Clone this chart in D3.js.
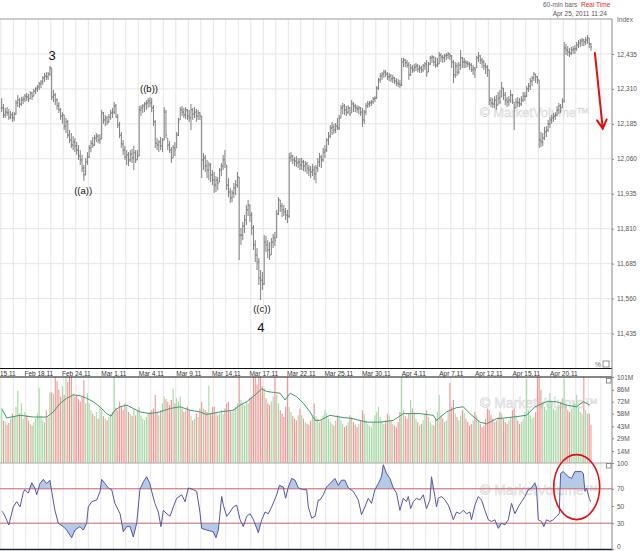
<!DOCTYPE html>
<html>
<head>
<meta charset="utf-8">
<script src="https://cdn.jsdelivr.net/npm/d3@7"></script>
<style>
  body { margin: 0; background: #fff; }
  svg { display: block; font-family: "Liberation Sans", Arial, sans-serif; }
</style>
</head>
<body>
<div id="chart"></div>
<script>
// 60-min bars, 7 per trading day (Apr 25 only 2 bars so far)
var hi = [
  12277,12256,12242,12245,12238,12231,12227, 12227,12270,12288,12277,12281,12284,12292,
  12295,12292,12302,12299,12310,12317,12324, 12335,12342,12356,12367,12370,12370,12392,
  12385,12306,12295,12277,12263,12242,12227, 12217,12206,12199,12163,12152,12141,12134,
  12120,12109,12091,12074,12038,12063,12084, 12109,12127,12138,12145,12152,12148,12148,
  12235,12227,12217,12213,12220,12235,12242, 12263,12256,12220,12192,12156,12127,12106,
  12091,12084,12091,12095,12106,12091,12091, 12249,12252,12256,12263,12270,12277,12281,
  12277,12252,12199,12134,12127,12138,12134, 12245,12235,12134,12123,12102,12109,12120,
  12156,12206,12245,12249,12242,12245,12238, 12235,12256,12242,12245,12238,12235,12227,
  12213,12081,12074,12056,12049,12045,12020, 12013,11998,11995,12027,12045,12074,12091,
  12038,11991,11956,11948,11973,11984,12013, 11995,11813,11834,11859,11895,11913,11895,
  11870,11823,11769,11741,11705,11662,11655, 11787,11784,11769,11762,11777,11791,11798,
  11877,11923,11913,11902,11895,11884,11877, 12081,12084,12074,12066,12070,12063,12063,
  12063,12056,12052,12049,12038,12034,12041, 12034,12038,12063,12081,12074,12099,12109,
  12134,12156,12181,12192,12185,12188,12206, 12217,12252,12260,12256,12249,12252,12245,
  12270,12263,12256,12252,12249,12245,12242, 12235,12260,12267,12267,12270,12281,12284,
  12320,12349,12367,12370,12378,12378,12370, 12367,12363,12360,12353,12349,12346,12342,
  12421,12421,12417,12413,12406,12399,12395, 12399,12403,12399,12395,12392,12399,12406,
  12413,12406,12428,12431,12428,12424,12421, 12442,12438,12431,12435,12438,12442,12438,
  12431,12413,12406,12403,12406,12449,12424, 12421,12413,12410,12406,12403,12395,12388,
  12428,12442,12431,12421,12413,12403,12395, 12378,12281,12277,12284,12288,12299,12306,
  12335,12313,12299,12281,12284,12306,12292, 12263,12277,12281,12277,12284,12299,12299,
  12320,12331,12349,12356,12370,12363,12356, 12342,12156,12152,12174,12177,12199,12209,
  12217,12224,12227,12249,12260,12256,12277, 12478,12471,12463,12456,12460,12463,12467,
  12478,12485,12489,12492,12489,12496,12503, 12492,12474
];
var lo = [
  12227,12206,12206,12213,12199,12202,12192, 12195,12217,12245,12242,12249,12256,12263,
  12267,12263,12274,12270,12284,12292,12299, 12306,12313,12324,12335,12342,12342,12356,
  12270,12263,12252,12235,12224,12199,12185, 12163,12152,12134,12116,12099,12091,12084,
  12074,12056,12038,12013,11981,12002,12038, 12063,12084,12099,12106,12120,12116,12113,
  12131,12185,12177,12181,12188,12199,12206, 12220,12206,12170,12134,12099,12074,12056,
  12038,12034,12049,12045,12020,12045,12056, 12070,12213,12224,12227,12235,12242,12245,
  12227,12177,12099,12091,12084,12091,12084, 12127,12134,12091,12081,12045,12063,12070,
  12099,12141,12199,12213,12206,12202,12199, 12192,12163,12199,12206,12192,12199,12199,
  11991,12020,12013,11991,11984,11977,11966, 11938,11941,11948,11977,11998,12020,12027,
  11948,11923,11902,11905,11920,11930,11956, 11698,11752,11769,11795,11823,11855,11834,
  11787,11734,11691,11662,11609,11555,11591, 11609,11727,11705,11698,11716,11741,11748,
  11777,11859,11870,11852,11855,11841,11830, 11848,12049,12041,12034,12031,12027,12020,
  12020,12016,12013,12006,11998,11991,11998, 11984,11973,12013,12031,12027,12049,12063,
  12084,12109,12134,12145,12149,12152,12163, 12163,12206,12220,12217,12213,12220,12213,
  12224,12227,12227,12224,12220,12213,12174, 12185,12217,12242,12245,12249,12256,12263,
  12274,12306,12331,12342,12349,12353,12342, 12338,12335,12331,12328,12320,12317,12313,
  12320,12388,12388,12385,12342,12356,12367, 12370,12374,12370,12367,12367,12370,12378,
  12353,12370,12395,12403,12392,12385,12388, 12399,12406,12403,12406,12413,12417,12413,
  12385,12331,12349,12356,12363,12378,12385, 12385,12385,12388,12378,12370,12360,12349,
  12385,12406,12399,12385,12378,12363,12353, 12252,12245,12242,12242,12235,12252,12256,
  12281,12270,12252,12245,12249,12260,12256, 12163,12242,12245,12245,12249,12263,12267,
  12281,12299,12306,12320,12338,12331,12328, 12099,12102,12106,12127,12138,12156,12170,
  12185,12192,12199,12213,12220,12224,12242, 12260,12431,12428,12424,12431,12435,12435,
  12446,12456,12460,12463,12463,12467,12471, 12456,12446
];
var cl = [
  12242,12217,12227,12224,12209,12217,12206, 12220,12260,12270,12256,12270,12274,12284,
  12281,12274,12295,12284,12302,12310,12317, 12328,12335,12349,12356,12353,12363,12385,
  12281,12288,12270,12249,12235,12213,12217, 12177,12192,12145,12127,12109,12120,12106,
  12091,12070,12056,12027,12002,12049,12066, 12099,12116,12109,12134,12141,12127,12131,
  12224,12199,12206,12192,12209,12224,12227, 12249,12209,12181,12145,12113,12091,12066,
  12074,12056,12077,12063,12081,12056,12070, 12235,12242,12249,12256,12260,12267,12260,
  12242,12192,12116,12109,12120,12106,12127, 12227,12145,12109,12091,12063,12099,12091,
  12145,12192,12235,12227,12217,12235,12213, 12206,12235,12220,12227,12213,12224,12213,
  12056,12063,12034,12020,12038,12002,11984, 11966,11984,11973,12020,12034,12056,12045,
  11966,11941,11920,11938,11956,11966,11995, 11787,11787,11820,11841,11877,11895,11859,
  11813,11752,11716,11691,11634,11626,11612, 11762,11752,11734,11716,11762,11777,11769,
  11863,11913,11891,11877,11870,11859,11855, 12063,12070,12056,12052,12045,12049,12038,
  12049,12034,12041,12027,12020,12013,12020, 12006,12027,12049,12066,12056,12084,12091,
  12127,12141,12170,12174,12163,12177,12170, 12206,12242,12249,12235,12227,12242,12220,
  12256,12249,12242,12238,12242,12227,12199, 12227,12249,12256,12260,12263,12274,12277,
  12313,12342,12356,12363,12370,12363,12353, 12356,12346,12349,12338,12331,12328,12324,
  12406,12413,12403,12395,12360,12385,12378, 12388,12392,12381,12385,12378,12392,12399,
  12370,12399,12421,12424,12406,12395,12399, 12431,12424,12421,12428,12431,12435,12428,
  12406,12360,12392,12370,12395,12421,12406, 12406,12403,12399,12395,12378,12385,12378,
  12421,12428,12413,12406,12392,12388,12378, 12270,12260,12256,12270,12252,12277,12263,
  12313,12288,12270,12263,12270,12288,12270, 12242,12263,12260,12256,12270,12284,12284,
  12310,12320,12338,12349,12363,12353,12342, 12127,12120,12134,12156,12163,12185,12199,
  12206,12213,12217,12235,12249,12242,12267, 12456,12449,12442,12438,12449,12453,12453,
  12467,12474,12481,12485,12478,12485,12492, 12471,12460
];
// volume in millions
var vol = [
  62,50,48,45,47,52,58, 55,66,85,58,70,52,60, 56,50,46,44,48,52,58, 88,55,50,48,62,54,83,
  83,81,101,96,86,78,90, 80,101,95,101,101,82,78, 80,75,72,78,97,70,82, 70,62,58,55,60,52,66,
  62,55,52,50,54,58,60, 101,65,62,72,66,62,70, 68,60,58,55,64,56,62, 66,56,52,50,54,58,60,
  62,64,80,60,56,62,70, 78,75,72,68,74,87,70, 76,72,78,64,60,62,66, 62,55,50,52,58,54,64,
  72,64,62,60,91,58,66, 66,60,56,58,62,57,64, 70,72,62,60,64,66,70, 101,74,70,68,72,70,77,
  78,101,101,92,101,101,90, 88,76,70,68,72,78,101, 80,70,62,58,54,66,101, 66,60,55,52,50,56,64,
  56,52,48,46,45,50,54, 70,55,52,48,50,56,62, 58,52,48,46,44,50,56, 55,50,46,42,44,48,56,
  54,48,45,42,46,50,62, 58,50,46,44,42,48,56, 60,66,54,48,46,50,58, 56,50,46,44,42,48,60,
  101,62,55,52,58,74,64, 60,52,48,44,46,50,58, 62,54,48,45,44,52,60, 80,56,52,48,50,60,94,
  66,74,58,54,50,56,62, 58,52,48,44,46,50,60, 56,50,46,42,44,52,64, 62,56,52,48,50,54,60,
  58,52,48,46,50,54,62, 64,56,50,46,48,52,60, 99,62,56,52,54,60,101, 101,86,72,66,62,70,82,
  70,64,62,66,68,72,76, 99,68,62,60,64,72,70, 80,66,60,58,101,62,58, 58,45
];
// volume moving average, read at bar positions
var maBar = [0,2.8,10.3,17.7,25.2,28.9,32.7,36.4,40.1,43.9,47.6,51.3,55,58.8,61.2,63.4,66.2,70,73.7,77.5,
  83,88.6,94.3,99.9,105.5,111,114.8,122.3,129.7,133.5,137.2,140.9,145.6,148.4,152.1,155.9,158.7,161.5,165.2,169,
  172.7,175.5,178.2,183.8,189.4,196.9,204.3,211.8,219.3,224.9,234.2,241.7,243.5,249.1,254.7,258.5,262.2,267.8,271.5,277.1,
  286.5,293.9,298.6,305.1,310.7,316.3,321.9,325.7,329.4];
var maVal = [64,53,56,54,54,60,70,76,80,79,76,72,66,58,55,62,66,68,64,60,
  58,60,64,66,62,60,57,60,62,68,72,78,87,84,83,82,74,82,78,70,
  60,50,50,56,54,52,48,48,50,58,58,56,50,60,65,66,58,48,46,52,
  54,56,66,72,72,68,66,72,68];
// RSI, read at bar positions
var rsiBar = [0,1,4,6.5,8.4,10.3,12.1,13,14.9,16.8,18.6,19.6,21.4,23.3,25.2,27,28,29.8,31.7,34.5,
  36.4,39.2,41,43.8,45.7,47.6,48.5,50.4,53.2,55.1,56,57.9,59.7,61.6,63.4,66.3,68.1,70,71.9,73.7,
  75.6,77.4,79.3,81.2,83,84,85.8,87.7,89.2,90.5,92.4,94.3,96.1,98,100.8,102.7,104.5,107.3,109.2,111,
  112,114.8,118.5,120,121.3,123.2,124.1,126,127.9,129.7,131.6,133.5,135.3,137.2,139.1,141,143.7,145.6,147.5,149.3,
  151.2,154,155.5,157.7,159,160.5,162.4,164.3,166.1,168.9,170.8,171.7,173.6,175.5,177.3,
  178.2,180.1,181.9,183.8,186.6,188.5,190.3,192.2,194.1,196.9,199.7,201.5,203.4,205.3,207.1,209,210.9,212.7,213.7,215.5,
  217.4,219.3,221.1,223,224.9,226.7,227.7,229,230.5,232.3,234.2,236.1,237.9,239.8,240.7,242.6,243.5,244.5,246.3,248.2,
  250.1,251.9,252.9,254.7,256.6,258.5,260.3,262.2,263.1,265,266.9,268.7,270.6,272.5,274.3,276.2,278.1,279.9,281.8,283.7,
  285.5,287.4,289.3,291.1,293,294.9,296.7,298.6,299.5,300.5,302.3,303.6,305.1,307,308.9,310.7,312.2,313,314.5,317.3,
  319.1,321,324.7,325.7,326.6,327.5,329,329.8];
var rsiVal = [44,42,28,49,55,49,66,69,65,77,71,63,76,81,76,80,67,45,30,26,
  22,13,22,26,22,30,49,55,57,67,81,76,71,69,53,41,20,26,26,14,
  30,69,78,84,76,67,53,43,26,45,41,38,49,59,63,55,71,69,67,43,
  24,22,20,13,22,61,51,38,43,49,51,34,26,38,41,34,19,34,43,41,
  49,63,74,72,59,72,82,80,71,69,69,49,36,38,57,
  57,63,72,76,82,74,80,80,71,67,57,40,49,59,53,69,76,84,98,88,
  82,71,65,45,59,55,61,47,55,59,57,63,47,57,84,61,49,59,61,57,
  51,41,34,43,41,45,41,43,34,51,61,57,45,34,32,34,24,30,28,34,
  53,41,49,55,61,69,71,77,71,34,32,26,34,32,34,38,41,88,90,84,
  82,90,90,88,67,71,59,55];

var priceTicks = [12435, 12310, 12185, 12060, 11935, 11810, 11685, 11560, 11435];
var volTicks = [101, 86, 72, 58, 43, 29, 14];
var rsiTicks = [100, 70, 50, 30, 0];
var labelDays = [0, 3, 6, 9, 12, 15, 18, 21, 24, 27, 30, 33, 36, 39, 42, 45];
var dateLabels = ["Feb 15,11","Feb 18,11","Feb 24,11","Mar 1,11","Mar 4,11","Mar 9,11","Mar 14,11",
  "Mar 17,11","Mar 22,11","Mar 25,11","Mar 30,11","Apr 4,11","Apr 7,11","Apr 12,11","Apr 15,11","Apr 20,11"];

// wave labels and the arrow, in bar / price units
var waveText = ["3", "((b))", "((a))", "((c))", "4"];
var waveBar = [28.2, 82.5, 45.6, 145.7, 145.1];
var wavePrice = [12431, 12310, 11945, 11523, 11458];
var waveSize = [13, 9.5, 9.5, 9.5, 13];
var arrowBar = [332.2, 336.6];
var arrowPrice = [12438, 12168];

var width = 640, height = 551, plotRight = 612;

var svg = d3.select("#chart")
  .append("svg")
    .attr("width", width)
    .attr("height", height);

var x = d3.scaleLinear().domain([0, 336]).range([0.8, 600.8]);
var xDay = d3.scaleLinear().domain([0, 48]).range([0.8, 600.8]);
var yP = d3.scaleLinear().domain([11310, 12560]).range([368.5, 19]);
var yV = d3.scaleLinear().domain([0, 101]).range([463, 377]);
var yR = d3.scaleLinear().domain([0, 100]).range([549, 463]);

// vertical day grid in each panel
var days = d3.range(0, 49);
[[19, 368], [377, 463], [463, 549]].forEach(function(p) {
  svg.append("g").selectAll("line").data(days).enter().append("line")
    .attr("x1", function(d) { return xDay(d); })
    .attr("x2", function(d) { return xDay(d); })
    .attr("y1", p[0]).attr("y2", p[1])
    .attr("stroke", "#e6e6e6").attr("stroke-width", 1);
});

// horizontal price grid
svg.append("g").selectAll("line").data(priceTicks).enter().append("line")
  .attr("x1", 0).attr("x2", plotRight)
  .attr("y1", function(d) { return yP(d); })
  .attr("y2", function(d) { return yP(d); })
  .attr("stroke", "#e6e6e6");

// watermarks
[[117, 13], [408, 14], [495, 14]].forEach(function(w) {
  svg.append("text")
    .attr("x", 480).attr("y", w[0])
    .attr("font-size", w[1])
    .attr("fill", "#eeeeee").attr("stroke", "#d4d4d4").attr("stroke-width", 0.4)
    .text("\u00a9 MarketVolume\u2122");
});

// price bars
var barPath = "";
for (var i = 0; i < cl.length; i++) {
  var bx = x(i + 0.5);
  var op = i > 0 ? Math.max(lo[i], Math.min(hi[i], cl[i - 1])) : cl[i];
  barPath += "M" + bx + "," + yP(hi[i]) + "V" + yP(lo[i]) +
             "M" + (bx - 1) + "," + yP(op) + "H" + bx +
             "M" + bx + "," + yP(cl[i]) + "H" + (bx + 1);
}
svg.append("path")
  .attr("d", barPath)
  .attr("fill", "none")
  .attr("stroke", "#727272")
  .attr("stroke-width", 0.9);

// volume bars
svg.append("g").selectAll("rect").data(vol).enter().append("rect")
  .attr("x", function(d, i) { return x(i + 0.5) - 0.55; })
  .attr("width", 1.1)
  .attr("y", function(d) { return yV(Math.min(d, 101)); })
  .attr("height", function(d) { return 463 - yV(Math.min(d, 101)); })
  .attr("fill", function(d, i) { return (i > 0 && cl[i] < cl[i - 1]) ? "#f19595" : "#a6d8a6"; });

// volume average line
svg.append("path")
  .datum(d3.zip(maBar, maVal))
  .attr("d", d3.line()
    .x(function(d) { return x(d[0] + 0.5); })
    .y(function(d) { return yV(d[1]); }))
  .attr("fill", "none")
  .attr("stroke", "#3d9a6e")
  .attr("stroke-width", 1);

// RSI with shaded zones
var rsiPts = d3.zip(rsiBar, rsiVal);
var defs = svg.append("defs");
defs.append("clipPath").attr("id", "above70")
  .append("rect").attr("x", 0).attr("y", 463).attr("width", plotRight).attr("height", yR(70) - 463);
defs.append("clipPath").attr("id", "below30")
  .append("rect").attr("x", 0).attr("y", yR(30)).attr("width", plotRight).attr("height", 549 - yR(30));

[[70, "above70"], [30, "below30"]].forEach(function(z) {
  svg.append("path")
    .datum(rsiPts)
    .attr("clip-path", "url(#" + z[1] + ")")
    .attr("d", d3.area()
      .x(function(d) { return x(d[0] + 0.5); })
      .y0(yR(z[0]))
      .y1(function(d) { return yR(d[1]); }))
    .attr("fill", "#b3cbe6");
});

svg.append("g").selectAll("line").data([70, 30]).enter().append("line")
  .attr("x1", 0).attr("x2", plotRight)
  .attr("y1", function(d) { return yR(d); })
  .attr("y2", function(d) { return yR(d); })
  .attr("stroke", "#c96464").attr("stroke-width", 1);

svg.append("path")
  .datum(rsiPts)
  .attr("d", d3.line()
    .x(function(d) { return x(d[0] + 0.5); })
    .y(function(d) { return yR(d[1]); }))
  .attr("fill", "none")
  .attr("stroke", "#5656a8")
  .attr("stroke-width", 1);

// frame lines
svg.append("line").attr("x1", 0).attr("x2", plotRight).attr("y1", 19).attr("y2", 19).attr("stroke", "#999");
svg.append("line").attr("x1", 0).attr("x2", plotRight).attr("y1", 368.5).attr("y2", 368.5).attr("stroke", "#111").attr("stroke-width", 1.2);
svg.append("line").attr("x1", 0).attr("x2", plotRight).attr("y1", 377).attr("y2", 377).attr("stroke", "#111").attr("stroke-width", 1.2);
svg.append("line").attr("x1", 0).attr("x2", plotRight).attr("y1", 463).attr("y2", 463).attr("stroke", "#aaa");
svg.append("line").attr("x1", 0).attr("x2", plotRight).attr("y1", 549.5).attr("y2", 549.5).attr("stroke", "#1c2338").attr("stroke-width", 1.5);
svg.append("line").attr("x1", plotRight).attr("x2", plotRight).attr("y1", 19).attr("y2", 551).attr("stroke", "#888");

// right axes
function rightAxis(scale, ticks, fmt) {
  var g = svg.append("g")
    .attr("transform", "translate(" + plotRight + ",0)")
    .call(d3.axisRight(scale).tickValues(ticks).tickSize(2).tickPadding(3).tickFormat(fmt));
  g.select(".domain").remove();
  g.selectAll("line").attr("stroke", "#888");
  g.selectAll("text").attr("font-size", 6.5).attr("fill", "#555")
    .attr("font-family", "'Liberation Sans', Arial, sans-serif");
  return g;
}
rightAxis(yP, priceTicks, d3.format(","));
rightAxis(yV, volTicks, function(d) { return d + "M"; });
var rAx = rightAxis(yR, rsiTicks, function(d) { return d; });
// keep the bottom "0" inside the picture
rAx.selectAll("text").filter(function(d) { return d === 0; }).attr("dy", "-0.1em");

// date labels
var xa = svg.append("g")
  .attr("transform", "translate(0,369)")
  .call(d3.axisBottom(xDay).tickValues(labelDays).tickSize(0).tickPadding(2)
    .tickFormat(function(d, i) { return dateLabels[i]; }));
xa.select(".domain").remove();
xa.selectAll("text").attr("font-size", 6.5).attr("fill", "#333")
  .attr("font-family", "'Liberation Sans', Arial, sans-serif");

// header texts
svg.append("text").attr("x", 543).attr("y", 7).attr("font-size", 6.5).attr("fill", "#666").text("60-min bars");
svg.append("text").attr("x", 581).attr("y", 7).attr("font-size", 6.5).attr("fill", "#d62b2b").text("Real Time");
svg.append("text").attr("x", 607).attr("y", 15.5).attr("font-size", 6.5).attr("fill", "#555")
  .attr("text-anchor", "end").text("Apr 25, 2011 11:24");
svg.append("text").attr("x", 617).attr("y", 22).attr("font-size", 6.5).attr("fill", "#666").text("Index");

// small panel widgets
svg.append("text").attr("x", 595).attr("y", 366.5).attr("font-size", 6.5).attr("fill", "#666").text("%");
svg.append("rect").attr("x", 603).attr("y", 361).attr("width", 6).attr("height", 6).attr("fill", "#fff").attr("stroke", "#777").attr("stroke-width", 0.8);
svg.append("rect").attr("x", 606.5).attr("y", 378.5).attr("width", 4.5).attr("height", 4.5).attr("fill", "#fff").attr("stroke", "#777").attr("stroke-width", 0.8);
svg.append("rect").attr("x", 606.5).attr("y", 463.5).attr("width", 4.5).attr("height", 4.5).attr("fill", "#fff").attr("stroke", "#777").attr("stroke-width", 0.8);

// wave labels
svg.append("g").selectAll("text").data(waveText).enter().append("text")
  .attr("x", function(d, i) { return x(waveBar[i] + 0.5); })
  .attr("y", function(d, i) { return yP(wavePrice[i]); })
  .attr("text-anchor", "middle")
  .attr("dominant-baseline", "central")
  .attr("font-size", function(d, i) { return waveSize[i]; })
  .attr("fill", "#111")
  .text(function(d) { return d; });

// red arrow
var ax1 = x(arrowBar[0] + 0.5), ay1 = yP(arrowPrice[0]),
    ax2 = x(arrowBar[1] + 0.5), ay2 = yP(arrowPrice[1]);
var ang = Math.atan2(ay2 - ay1, ax2 - ax1), hl = 10, ha = 0.5;
svg.append("path")
  .attr("d", "M" + ax1 + "," + ay1 + "L" + ax2 + "," + ay2 +
    "M" + (ax2 - hl * Math.cos(ang - ha)) + "," + (ay2 - hl * Math.sin(ang - ha)) +
    "L" + ax2 + "," + ay2 +
    "L" + (ax2 - hl * Math.cos(ang + ha)) + "," + (ay2 - hl * Math.sin(ang + ha)))
  .attr("fill", "none")
  .attr("stroke", "#e01010")
  .attr("stroke-width", 2)
  .attr("stroke-linecap", "round");

// red ellipse round the last RSI hump
svg.append("ellipse")
  .attr("cx", x(322.5)).attr("cy", yR(72))
  .attr("rx", 23).attr("ry", 32.5)
  .attr("fill", "none")
  .attr("stroke", "#e01010")
  .attr("stroke-width", 1.6);
</script>
</body>
</html>
